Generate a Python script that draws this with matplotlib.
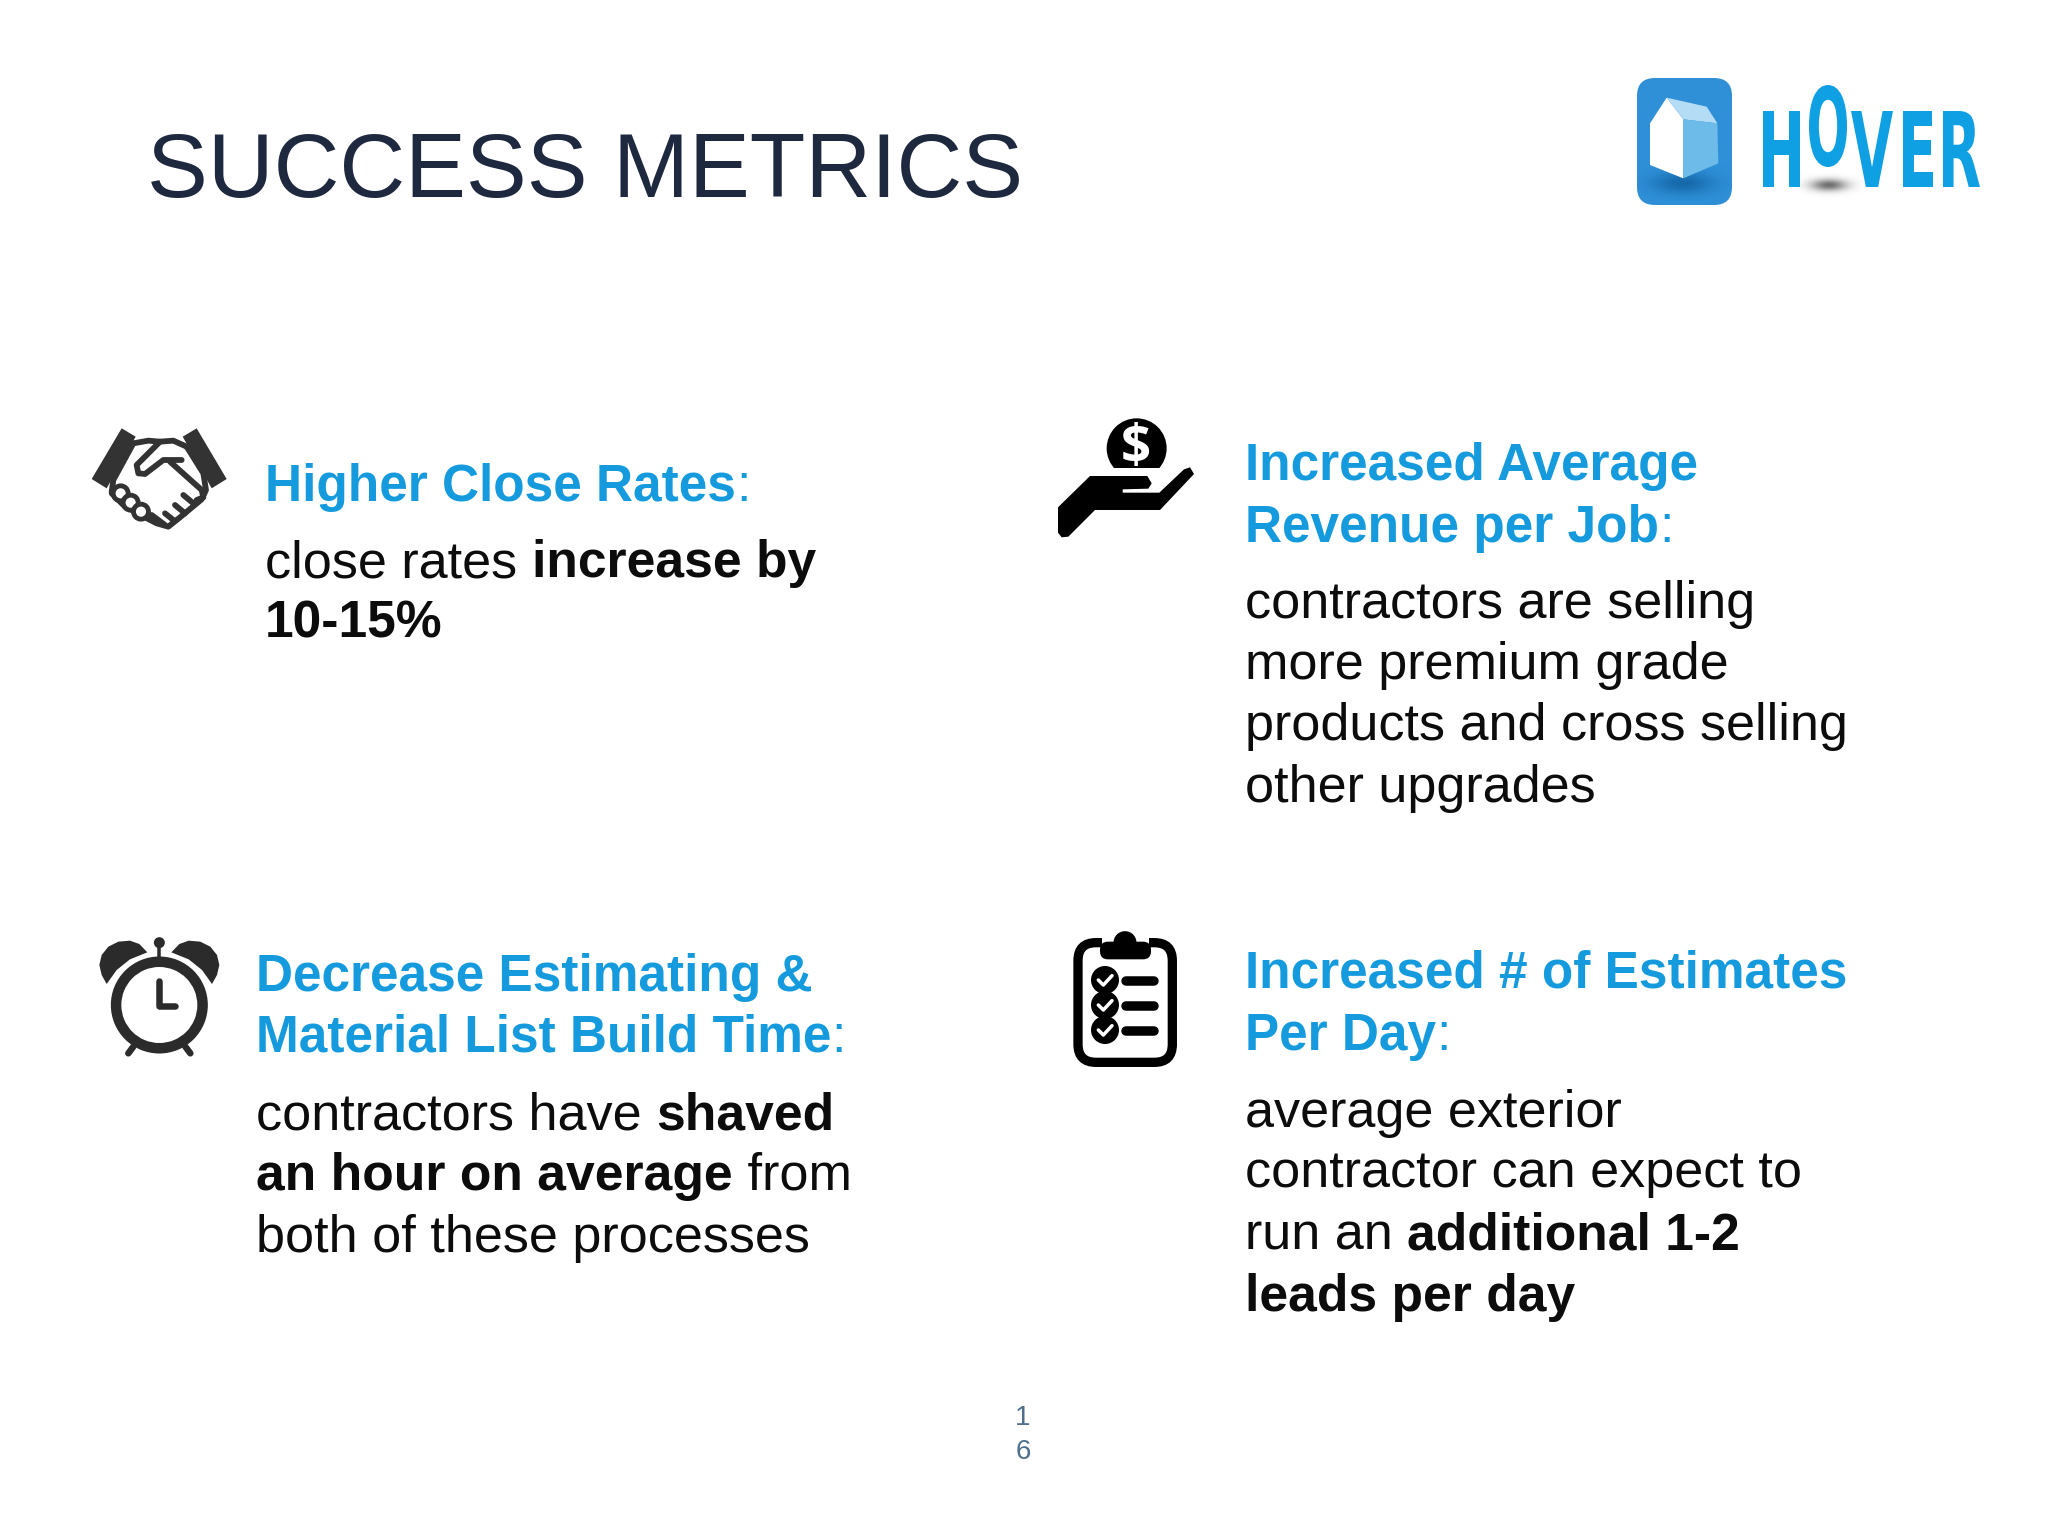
import numpy as np
import matplotlib
matplotlib.use("Agg")
import matplotlib.pyplot as plt
from matplotlib.patches import Polygon, Circle, FancyBboxPatch, Wedge
from matplotlib.text import Text
from matplotlib.textpath import TextPath
from matplotlib.font_manager import FontProperties
from matplotlib.transforms import Affine2D, Bbox

W, H = 2048, 1536
BLUE = "#159bdd"
INK = "#0c0c0c"
SANS = "Liberation Sans"

TITLE = "SUCCESS METRICS"
PAGE_DIGITS = ["1", "6"]
LOGO_LETTERS = ["H", "O", "V", "E", "R"]

BLOCK_CLOSE = [
    [("Higher Close Rates", "h"), (":", "c")],
    [("close rates ", "n"), ("increase by", "b")],
    [("10-15%", "b")],
]
BLOCK_REVENUE = [
    [("Increased Average", "h")],
    [("Revenue per Job", "h"), (":", "c")],
    [("contractors are selling", "n")],
    [("more premium grade", "n")],
    [("products and cross selling", "n")],
    [("other upgrades", "n")],
]
BLOCK_TIME = [
    [("Decrease Estimating &", "h")],
    [("Material List Build Time", "h"), (":", "c")],
    [("contractors have ", "n"), ("shaved", "b")],
    [("an hour on average", "b"), (" from", "n")],
    [("both of these processes", "n")],
]
BLOCK_ESTIMATES = [
    [("Increased # of Estimates", "h")],
    [("Per Day", "h"), (":", "c")],
    [("average exterior", "n")],
    [("contractor can expect to", "n")],
    [("run an ", "n"), ("additional 1-2", "b")],
    [("leads per day", "b")],
]

fig = plt.figure(figsize=(W / 100, H / 100), dpi=100, facecolor="white")
ax = fig.add_axes([0, 0, 1, 1])
ax.set_axis_off()
ax.set_xlim(0, W)
ax.set_ylim(H, 0)
renderer = fig.canvas.get_renderer()
STYLES = {"h": (BLUE, "bold", 37), "c": (BLUE, "normal", 37),
          "n": (INK, "normal", 37.5), "b": (INK, "bold", 37.2)}


def run_width(s, weight, size):
    probe = ax.text(100, 100, s + "|", fontsize=size, fontweight=weight, family=SANS)
    w1 = probe.get_window_extent(renderer).width
    probe.set_text("|")
    w2 = probe.get_window_extent(renderer).width
    probe.remove()
    return w1 - w2


def draw_block(x, baselines, block):
    for base, runs in zip(baselines, block):
        cx = x
        for s, st in runs:
            color, weight, size = STYLES[st]
            ax.text(cx, base, s, color=color, fontweight=weight, fontsize=size,
                    family=SANS, ha="left", va="baseline")
            cx += run_width(s, weight, size)


class FitText(Text):
    """Real text whose glyph is squeezed to fit a box, as in a condensed logotype."""

    def __init__(self, box, s, **kw):
        super().__init__((box[0] + box[2]) / 2, (box[1] + box[3]) / 2, s,
                         ha="center", va="center", fontsize=30, **kw)
        self.box = box

    def draw(self, rend):
        fp = FontProperties(family="DejaVu Sans", weight="bold")
        path = TextPath((0, 0), self.get_text(), size=100, prop=fp)
        ext = path.get_extents()
        x0, y0, x1, y1 = self.box
        (dx0, dy0), (dx1, dy1) = self.axes.transData.transform([(x0, y1), (x1, y0)])
        tr = (Affine2D().translate(-ext.x0, -ext.y0)
              .scale((dx1 - dx0) / ext.width, (dy1 - dy0) / ext.height)
              .translate(dx0, dy0))
        gc = rend.new_gc()
        gc.set_linewidth(0)
        gc.set_antialiased(True)
        rend.draw_path(gc, path, tr, matplotlib.colors.to_rgba(self.get_color()))
        gc.restore()

    def get_window_extent(self, renderer=None, dpi=None):
        x0, y0, x1, y1 = self.box
        return Bbox(self.axes.transData.transform([(x0, y1), (x1, y0)]))


def zmap(x0, y0):
    return lambda pts: [(x0 + a / 3, y0 + b / 3) for a, b in pts]


def stroke(pts, color, wpx, z=3):
    xs, ys = zip(*pts)
    ax.plot(xs, ys, color=color, lw=wpx * 0.72, solid_capstyle="round",
            solid_joinstyle="round", zorder=z)


def blur(cx, cy, rx, ry, rgb, peak, clip=None):
    xs = np.linspace(cx - 3 * rx, cx + 3 * rx, 120)
    ys = np.linspace(cy - 3 * ry, cy + 3 * ry, 80)
    gx, gy = np.meshgrid(xs, ys)
    a = peak * np.exp(-((gx - cx) / rx) ** 2 - ((gy - cy) / ry) ** 2)
    img = np.zeros(a.shape + (4,))
    img[..., :3] = matplotlib.colors.to_rgb(rgb)
    img[..., 3] = a
    im = ax.imshow(img, extent=(xs[0], xs[-1], ys[-1], ys[0]), zorder=2, aspect="auto")
    if clip is not None:
        im.set_clip_path(clip)


# ---- text ----
ax.text(147, 197, TITLE, fontsize=65.6, color="#1e2940", family=SANS, ha="left", va="baseline")
draw_block(265, [501, 577, 638], BLOCK_CLOSE)
draw_block(1245, [480, 542, 618, 679, 740, 802], BLOCK_REVENUE)
draw_block(256, [991, 1052, 1129, 1190, 1252], BLOCK_TIME)
draw_block(1245, [988, 1050, 1127, 1187, 1249, 1311], BLOCK_ESTIMATES)
for d, b in zip(PAGE_DIGITS, [1425, 1459]):
    ax.text(1023, b, d, fontsize=20, color="#4d6f8c", family=SANS, ha="center", va="baseline")

# ---- logo ----
z = zmap(1600, 60)
box = FancyBboxPatch((1637 + 16, 78 + 16), 95 - 32, 127 - 32, boxstyle="round,pad=16,rounding_size=18",
                     fc="#2f90d8", ec="none", zorder=1)
ax.add_patch(box)
(cx, cy), = z([(250, 368)])
blur(cx, cy, 30, 11, "#0f5f9e", 0.8, clip=box)
ax.add_patch(Polygon(z([(200, 113), (150, 190), (150, 315), (250, 355), (250, 178)]), fc="white", ec="none", zorder=3))
ax.add_patch(Polygon(z([(200, 113), (320, 140), (352, 190), (250, 178)]), fc="#b5dcf5", ec="none", zorder=3))
ax.add_patch(Polygon(z([(250, 178), (352, 190), (355, 310), (250, 355)]), fc="#6dbbe8", ec="none", zorder=3))
(cx, cy), = z([(688, 375)])
blur(cx, cy, 18, 6, "#555555", 0.85)
boxes = [(1763, 111, 1800, 187), (1809, 85, 1847, 167), (1851, 111, 1893, 187),
         (1903, 111, 1933, 187), (1943, 111, 1980, 187)]
for letter, b in zip(LOGO_LETTERS, boxes):
    ax.add_artist(FitText(b, letter, color="#0fa0e4", zorder=4))

# ---- handshake ----
z = zmap(70, 410)
C = "#333333"
ax.add_patch(Polygon(z([(155, 55), (197, 80), (110, 235), (65, 207)]), fc=C, ec="none", zorder=3))
ax.add_patch(Polygon(z([(380, 55), (338, 80), (425, 235), (470, 207)]), fc=C, ec="none", zorder=3))
for pts in [
    [(190, 100), (235, 92), (270, 95), (200, 165), (205, 190), (225, 192), (280, 150), (335, 150)],
    [(270, 95), (310, 92), (350, 110)],
    [(190, 100), (130, 210), (125, 245)],
    [(300, 155), (395, 240), (400, 262), (380, 270)],
    [(350, 110), (400, 190), (408, 240), (395, 268), (330, 322), (295, 350), (260, 340), (225, 322), (160, 285), (125, 250)],
    [(285, 310), (310, 330)], [(315, 285), (345, 310)], [(340, 255), (370, 280)],
    [(245, 315), (285, 345)],
]:
    stroke(z(pts), C, 5.8)
for c in [(152, 250), (182, 278), (213, 305)]:
    (cx, cy), = z([c])
    ax.add_patch(Circle((cx, cy), 7.5, fc="white", ec=C, lw=4.8 * 0.72, zorder=4))

# ---- hand with coin ----
z = zmap(1040, 400)
(cx, cy), = z([(290, 145)])
ax.add_patch(Circle((cx, cy), 30, fc="black", ec="none", zorder=3))
ax.add_patch(Polygon(z([(180, 204), (400, 204), (400, 240), (180, 240)]), fc="white", ec="none", zorder=3))
ax.text(cx - 1, cy + 1, "$", color="white", fontsize=38, fontweight="bold", family="Open Sans",
        ha="center", va="center", zorder=4)
ax.add_patch(Polygon(z([(150, 228), (322, 228), (335, 250), (325, 266), (248, 268), (248, 278), (358, 278),
                        (432, 208), (450, 202), (462, 222), (360, 330), (165, 330), (85, 410), (65, 412),
                        (54, 398), (54, 322)]), fc="black", ec="none", zorder=5))

# ---- alarm clock ----
z = zmap(80, 920)
C = "#2b2b2b"
(cx, cy), = z([(238, 255)])
ax.add_patch(Wedge((cx, cy), 48.5, 0, 360, width=10.5, fc=C, ec="none", zorder=3))
bell = [(80, 192), (65, 165), (58, 135), (65, 105), (85, 80), (115, 65), (150, 62),
        (178, 72), (202, 97), (150, 118), (110, 150)]
ax.add_patch(Polygon(z(bell), fc=C, ec="none", zorder=3))
ax.add_patch(Polygon(z([(476 - a, b) for a, b in bell]), fc=C, ec="none", zorder=3))
stroke(z([(238, 70), (238, 110)]), C, 3.5)
(bx, by), = z([(238, 68)])
ax.add_patch(Circle((bx, by), 5.5, fc=C, ec="none", zorder=3))
stroke(z([(238, 183), (238, 258), (286, 258)]), C, 6.5)
stroke(z([(160, 380), (145, 400)]), C, 6.5)
stroke(z([(316, 380), (331, 400)]), C, 6.5)

# ---- clipboard ----
z = zmap(1050, 920)
(x0, y0), (x1, y1) = z([(84, 68), (367, 427)])
ax.add_patch(FancyBboxPatch((x0 + 18, y0 + 18), x1 - x0 - 36, y1 - y0 - 36,
                            boxstyle="round,pad=18,rounding_size=18", fc="white", ec="black",
                            lw=9.3 * 0.72, zorder=3))
ax.add_patch(Polygon(z([(155, 40), (298, 40), (298, 100), (155, 100)]), fc="white", ec="none", zorder=4))
(x0, y0), (x1, y1) = z([(150, 65), (303, 118)])
ax.add_patch(FancyBboxPatch((x0 + 7, y0 + 7), x1 - x0 - 14, y1 - y0 - 14, boxstyle="round,pad=7,rounding_size=8",
                            fc="black", ec="none", zorder=5))
(cx, cy), = z([(225, 68)])
ax.add_patch(Circle((cx, cy), 11.5, fc="black", ec="none", zorder=5))
for yy in [180, 255, 330]:
    (cx, cy), = z([(165, yy)])
    ax.add_patch(Circle((cx, cy), 14, fc="black", ec="none", zorder=5))
    stroke(z([(145, yy), (160, yy + 15), (186, yy - 13)]), "white", 3.5, 6)
    stroke(z([(228, yy + 2), (312, yy + 2)]), "black", 9.5, 5)

ax.set_xlim(0, W)
ax.set_ylim(H, 0)
fig.savefig("out.png", dpi=100, facecolor="white")
